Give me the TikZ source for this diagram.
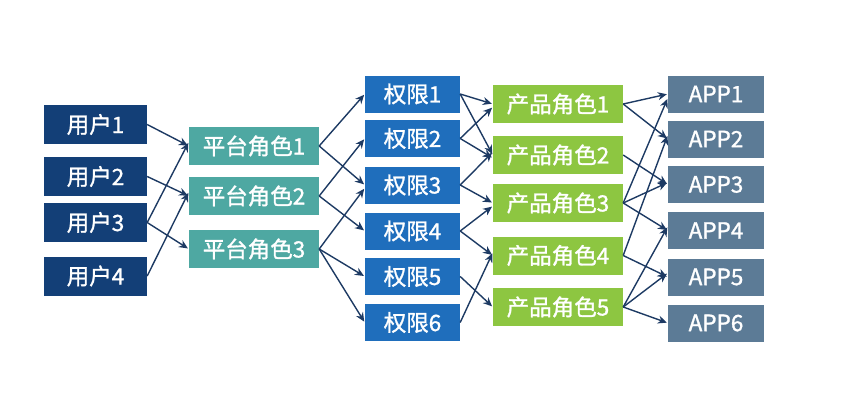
\documentclass[tikz,border=0pt]{standalone}
\usepackage{fontspec}
\setmainfont{Noto Sans CJK SC}
\newfontfamily\boxfont[FakeBold=1.3]{Noto Sans CJK SC}
\usetikzlibrary{arrows.meta}
\definecolor{usercol}{HTML}{133F77}
\definecolor{platcol}{HTML}{4EA8A2}
\definecolor{permcol}{HTML}{1F6EBC}
\definecolor{prodcol}{HTML}{8DC641}
\definecolor{appcol}{HTML}{5C7B96}
\definecolor{arrcol}{HTML}{1D3A63}
\tikzset{
  box/.style={rectangle, inner sep=0pt, text=white, font=\boxfont\fontsize{22.5}{22.5}\selectfont},
  userbox/.style={box, fill=usercol, minimum width=103pt, minimum height=39pt},
  platbox/.style={box, fill=platcol, minimum width=130pt, minimum height=38pt},
  permbox/.style={box, fill=permcol, minimum width=95pt, minimum height=37pt},
  prodbox/.style={box, fill=prodcol, minimum width=130pt, minimum height=38pt},
  appbox/.style={box, fill=appcol, minimum width=96pt, minimum height=37pt},
  link/.style={draw=arrcol, line width=1.4pt, -{Stealth[length=9pt,width=8pt]}, shorten >=1pt}
}
\begin{document}
\begin{tikzpicture}[x=1pt,y=-1pt]
\useasboundingbox (0,0) rectangle (844,407);
% users
\node[userbox] (u1) at (95.5,124.5) {用户1};
\node[userbox] (u2) at (95.5,176.5) {用户2};
\node[userbox] (u3) at (95.5,222.5) {用户3};
\node[userbox] (u4) at (95.5,276) {用户4};
% platform roles
\node[platbox] (p1) at (254,146) {平台角色1};
\node[platbox] (p2) at (254,196) {平台角色2};
\node[platbox] (p3) at (254,249) {平台角色3};
% permissions
\node[permbox] (q1) at (412.5,94) {权限1};
\node[permbox] (q2) at (412.5,138.5) {权限2};
\node[permbox] (q3) at (412.5,185) {权限3};
\node[permbox] (q4) at (412.5,231) {权限4};
\node[permbox] (q5) at (412.5,276.5) {权限5};
\node[permbox] (q6) at (412.5,322.5) {权限6};
% product roles
\node[prodbox] (r1) at (558,104) {产品角色1};
\node[prodbox] (r2) at (558,155) {产品角色2};
\node[prodbox] (r3) at (558,203) {产品角色3};
\node[prodbox] (r4) at (558,255.5) {产品角色4};
\node[prodbox] (r5) at (558,307) {产品角色5};
% apps
\node[appbox] (a1) at (716,94) {APP1};
\node[appbox] (a2) at (716,139) {APP2};
\node[appbox] (a3) at (716,184.5) {APP3};
\node[appbox] (a4) at (716,230.5) {APP4};
\node[appbox] (a5) at (716,277) {APP5};
\node[appbox] (a6) at (716,323) {APP6};
% users -> platform roles
\draw[link] (u1.east) -- (p1.west);
\draw[link] (u2.east) -- (p2.west);
\draw[link] (u3.east) -- ([yshift=4pt]p1.west);
\draw[link] (u3.east) -- (p3.west);
\draw[link] (u4.east) -- ([yshift=4pt]p2.west);
% platform roles -> permissions
\draw[link] (p1.east) -- (q1.west);
\draw[link] (p1.east) -- (q3.west);
\draw[link] (p2.east) -- (q2.west);
\draw[link] (p2.east) -- (q4.west);
\draw[link] (p3.east) -- ([yshift=-3pt]q3.west);
\draw[link] (p3.east) -- (q5.west);
\draw[link] (p3.east) -- (q6.west);
% permissions -> product roles
\draw[link] (q1.east) -- (r1.west);
\draw[link] (q1.east) -- (r2.west);
\draw[link] (q2.east) -- ([yshift=-3pt]r1.west);
\draw[link] (q2.east) -- ([yshift=-3pt]r2.west);
\draw[link] (q3.east) -- ([yshift=3pt]r2.west);
\draw[link] (q3.east) -- (r3.west);
\draw[link] (q4.east) -- ([yshift=-3pt]r3.west);
\draw[link] (q4.east) -- (r4.west);
\draw[link] (q5.east) -- (r5.west);
\draw[link] (q6.east) -- ([yshift=3pt]r4.west);
% product roles -> apps
\draw[link] (r1.east) -- (a1.west);
\draw[link] (r1.east) -- (a2.west);
\draw[link] (r2.east) -- (a3.west);
\draw[link] (r3.east) -- ([yshift=-4pt]a1.west);
\draw[link] (r3.east) -- ([yshift=2pt]a3.west);
\draw[link] (r3.east) -- (a4.west);
\draw[link] (r4.east) -- ([yshift=4pt]a2.west);
\draw[link] (r4.east) -- (a5.west);
\draw[link] (r5.east) -- ([yshift=4pt]a4.west);
\draw[link] (r5.east) -- ([yshift=4pt]a5.west);
\draw[link] (r5.east) -- (a6.west);
\end{tikzpicture}
\end{document}
